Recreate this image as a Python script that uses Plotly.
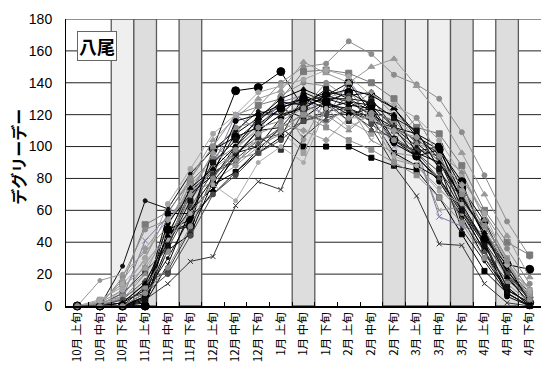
import plotly.graph_objects as go

# Dekad categories (October early .. April late)
months = ["10月", "10月", "10月", "11月", "11月", "11月", "12月", "12月", "12月",
          "1月", "1月", "1月", "2月", "2月", "2月", "3月", "3月", "3月", "4月", "4月", "4月"]
parts = ["上旬", "中旬", "下旬"] * 7
categories = [f"{m} {p}" for m, p in zip(months, parts)]

# Shaded dekads
light_bands = ["10月 下旬", "3月 上旬", "3月 中旬"]
dark_bands = ["11月 上旬", "11月 下旬", "1月 中旬", "2月 下旬", "3月 下旬", "4月 中旬"]

# Value-axis ticks
y_ticks = [0, 20, 40, 60, 80, 100, 120, 140, 160, 180]

# Degree-day series, one per season
s01 = [0, 0, 0, 0, 47, 50, 99, 135, 137, 147, 124, 132, 140, 121, 104, 97, 100, 74, 53, 26, 23]
s02 = [0, 0, 0, 3, 35, 45, 78, 95, 110, 112, 100, 100, 100, 93, 88, 85, 68, 45, 22, 8, 0]
s03 = [0, 2, 10, 30, 58, 80, 100, 120, 125, 140, 150, 152, 166, 158, 145, 139, 130, 109, 82, 53, 31]
s04 = [0, 0, 0, 12, 40, 72, 85, 108, 118, 125, 128, 134, 132, 134, 124, 106, 98, 70, 44, 22, 6]
s05 = [0, 3, 14, 51, 59, 78, 92, 108, 126, 130, 147, 148, 146, 140, 130, 112, 108, 88, 60, 40, 32]
s06 = [0, 0, 25, 66, 61, 83, 98, 110, 122, 120, 134, 128, 122, 116, 112, 93, 80, 60, 34, 8, 0]
s07 = [0, 0, 5, 41, 56, 70, 88, 120, 110, 128, 132, 118, 141, 124, 100, 99, 56, 50, 46, 20, 6]
s08 = [0, 0, 0, 4, 14, 28, 31, 63, 78, 73, 106, 118, 122, 112, 88, 69, 39, 38, 14, 2, 0]
s09 = [0, 0, 8, 20, 50, 80, 104, 118, 130, 135, 153, 146, 140, 150, 155, 138, 120, 96, 70, 44, 18]
s10 = [0, 0, 0, 6, 46, 52, 72, 96, 100, 118, 126, 130, 130, 122, 116, 102, 91, 62, 40, 12, 0]
s11 = [0, 1, 8, 22, 36, 62, 84, 92, 104, 108, 116, 122, 124, 116, 110, 98, 94, 66, 48, 24, 8]
s12 = [0, 0, 18, 48, 54, 72, 96, 112, 116, 132, 140, 138, 124, 134, 120, 110, 86, 80, 58, 36, 14]
s13 = [0, 0, 2, 10, 42, 60, 80, 100, 114, 124, 118, 128, 120, 124, 102, 94, 78, 56, 30, 10, 2]
s14 = [0, 4, 12, 24, 44, 66, 86, 96, 104, 110, 96, 126, 116, 108, 118, 106, 90, 72, 50, 30, 10]
s15 = [0, 0, 0, 5, 58, 58, 76, 84, 96, 106, 132, 126, 124, 118, 96, 88, 80, 58, 35, 10, 2]
s16 = [0, 16, 20, 34, 50, 76, 90, 104, 112, 128, 104, 130, 136, 116, 92, 88, 74, 58, 40, 18, 4]
s17 = [0, 0, 0, 8, 30, 56, 70, 84, 98, 112, 128, 132, 128, 120, 112, 100, 88, 48, 28, 8, 0]
s18 = [0, 0, 4, 16, 38, 70, 84, 90, 102, 112, 120, 116, 124, 110, 106, 96, 80, 54, 34, 16, 6]
s19 = [0, 2, 6, 26, 46, 70, 78, 88, 100, 108, 122, 114, 126, 104, 96, 94, 60, 62, 42, 22, 12]
s20 = [0, 0, 0, 6, 52, 70, 82, 116, 120, 126, 130, 124, 128, 126, 112, 108, 100, 64, 40, 6, 0]
s21 = [0, 0, 10, 30, 64, 86, 108, 120, 134, 138, 142, 148, 144, 132, 126, 118, 104, 82, 58, 28, 8]
s22 = [0, 0, 2, 14, 22, 48, 82, 96, 106, 98, 122, 128, 116, 130, 112, 104, 96, 60, 40, 20, 0]
s23 = [0, 1, 4, 20, 40, 60, 90, 100, 110, 120, 126, 120, 110, 122, 116, 102, 96, 84, 54, 30, 10]
s24 = [0, 0, 0, 0, 48, 54, 98, 106, 112, 124, 130, 128, 134, 126, 104, 94, 98, 78, 42, 26, 2]
s25 = [0, 0, 6, 12, 34, 80, 100, 92, 96, 112, 120, 112, 104, 98, 90, 82, 68, 52, 30, 14, 2]
s26 = [0, 0, 0, 2, 26, 60, 74, 94, 110, 120, 124, 132, 136, 132, 124, 108, 92, 68, 46, 22, 4]
s27 = [0, 2, 16, 36, 54, 70, 96, 88, 108, 114, 110, 104, 118, 118, 110, 106, 90, 76, 48, 26, 6]
s28 = [0, 0, 4, 8, 20, 44, 70, 82, 96, 104, 116, 120, 132, 114, 104, 96, 84, 68, 48, 20, 4]
s29 = [0, 0, 0, 4, 38, 66, 90, 104, 116, 128, 126, 136, 130, 128, 118, 110, 86, 60, 38, 12, 0]
s30 = [0, 3, 14, 28, 42, 58, 76, 66, 90, 100, 90, 124, 112, 120, 94, 88, 72, 64, 48, 26, 10]
s31 = [0, 0, 2, 14, 44, 74, 86, 100, 118, 130, 136, 130, 126, 124, 120, 96, 90, 68, 46, 18, 2]
s32 = [0, 0, 0, 8, 24, 50, 80, 98, 112, 116, 124, 140, 130, 120, 104, 118, 94, 70, 50, 28, 4]

series = [s01, s02, s03, s04, s05, s06, s07, s08, s09, s10, s11, s12, s13, s14, s15, s16,
          s17, s18, s19, s20, s21, s22, s23, s24, s25, s26, s27, s28, s29, s30, s31, s32]

# (line colour, marker symbol, marker size)
styles = [
    ("#000000", "circle", 8), ("#000000", "square", 5), ("#8c8c8c", "circle", 5),
    ("#000000", "triangle-up", 6), ("#7a7a7a", "square", 6), ("#111111", "circle", 4),
    ("#7c7ca8", "x-thin-open", 6), ("#333333", "x-thin-open", 5), ("#999999", "triangle-up", 6),
    ("#000000", "diamond", 5), ("#444444", "square", 5), ("#8a8a8a", "circle", 5),
    ("#000000", "circle", 5), ("#a0a0a0", "square", 5), ("#000000", "square", 5),
    ("#969696", "circle", 4), ("#111111", "circle", 3), ("#555555", "triangle-up", 5),
    ("#909090", "x-thin-open", 5), ("#000000", "circle", 5), ("#a5a5a5", "circle", 5),
    ("#333333", "square", 5), ("#8a8a8a", "triangle-up", 5), ("#000000", "circle", 8),
    ("#8e8e8e", "square", 5), ("#000000", "x-thin-open", 5), ("#9a9a9a", "diamond", 5),
    ("#4a4a4a", "circle", 5), ("#111111", "square", 5), ("#aaaaaa", "circle", 4),
    ("#000000", "triangle-up", 5), ("#8c8c8c", "circle", 5),
]

fig = go.Figure()

for vals, (col, sym, size) in zip(series, styles):
    fig.add_trace(go.Scatter(
        x=categories, y=vals, mode="lines+markers",
        line=dict(color=col, width=1),
        marker=dict(color=col, symbol=sym, size=size, line=dict(color=col, width=1)),
        showlegend=False, cliponaxis=False,
    ))

y_max = y_ticks[-1]

# Shaded dekad columns, then horizontal grid drawn over them (both under the traces)
shapes = []
for name in light_bands + dark_bands:
    i = categories.index(name)
    dark = name in dark_bands
    shapes.append(dict(
        type="rect", layer="between", xref="x", yref="y",
        x0=i - 0.5, x1=i + 0.5, y0=0, y1=y_max,
        fillcolor="#dddddd" if dark else "#efefef",
        line=dict(color="#5a5a5a", width=1.3),
    ))
for v in y_ticks[1:]:
    shapes.append(dict(
        type="line", layer="between", xref="paper", yref="y",
        x0=0, x1=1, y0=v, y1=v,
        line=dict(color="#222222", width=1),
    ))

fig.update_layout(
    width=541, height=371,
    margin=dict(l=66, r=0, t=19, b=65),
    paper_bgcolor="white", plot_bgcolor="white",
    shapes=shapes,
    annotations=[
        dict(
            text="<b>八尾</b>", x=0.023, y=0.905, xref="paper", yref="paper",
            xanchor="left", yanchor="middle", showarrow=False,
            font=dict(family="Noto Sans CJK JP", size=18, color="#000000"),
            bgcolor="white", bordercolor="#666666", borderwidth=1, borderpad=1,
        ),
        dict(
            text="<b>デグリーデー</b>", textangle=-90,
            x=-0.101, y=0.52, xref="paper", yref="paper",
            xanchor="center", yanchor="middle", showarrow=False,
            font=dict(family="Noto Sans CJK JP", size=16, color="#000000"),
        ),
    ],
)

fig.update_xaxes(
    type="category", categoryorder="array", categoryarray=categories,
    range=[-0.5, len(categories) - 0.5],
    showgrid=False, showline=True, linecolor="#000000", linewidth=1.5,
    ticks="inside", tickson="boundaries", ticklen=4, tickcolor="#000000",
    tickangle=-90,
    tickfont=dict(family="Noto Sans CJK JP", size=11.5, color="#000000"),
)

fig.update_yaxes(
    range=[0, y_max], tickmode="array", tickvals=y_ticks,
    showgrid=False,
    showline=True, linecolor="#000000", linewidth=1,
    zeroline=False, ticks="", ticklabelstandoff=10,
    tickfont=dict(family="Liberation Sans", size=14, color="#000000"),
)

fig.write_html("out.html")
